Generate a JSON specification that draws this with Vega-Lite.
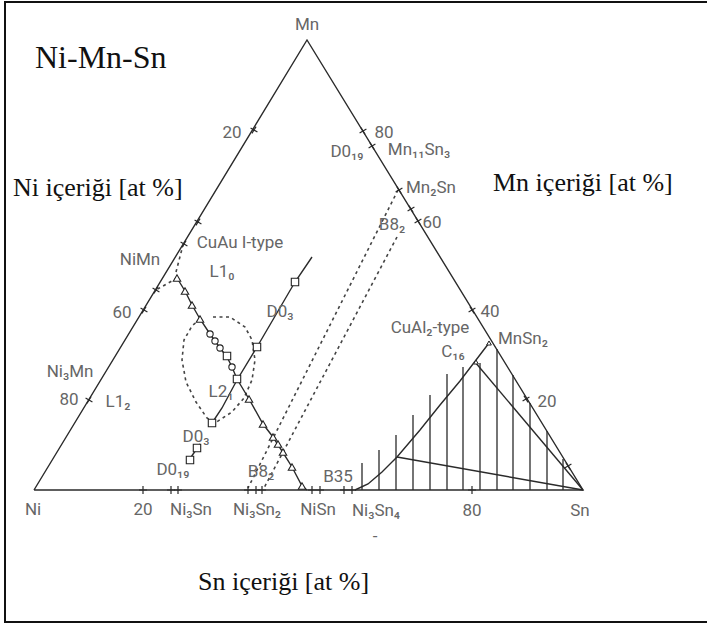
{
  "$schema": "https://vega.github.io/schema/vega-lite/v6.json",
  "width": 707,
  "height": 626,
  "padding": 0,
  "autosize": {"type": "fit", "contains": "padding"},
  "background": "white",
  "config": {"view": {"stroke": null}},
  "datasets": {
    "border": [
      {"id": "b", "i": 0, "x": 707, "y": 2},
      {"id": "b", "i": 1, "x": 5, "y": 2},
      {"id": "b", "i": 2, "x": 5, "y": 622},
      {"id": "b", "i": 3, "x": 707, "y": 622}
    ],
    "solid": [
      {"id": "tri", "i": 0, "x": 34, "y": 490},
      {"id": "tri", "i": 1, "x": 307, "y": 40},
      {"id": "tri", "i": 2, "x": 583, "y": 490},
      {"id": "tri", "i": 3, "x": 34, "y": 490},
      {"id": "main", "i": 0, "x": 177, "y": 278},
      {"id": "main", "i": 1, "x": 185, "y": 291},
      {"id": "main", "i": 2, "x": 192, "y": 305},
      {"id": "main", "i": 3, "x": 200, "y": 319},
      {"id": "main", "i": 4, "x": 210, "y": 334},
      {"id": "main", "i": 5, "x": 220, "y": 348},
      {"id": "main", "i": 6, "x": 227, "y": 357},
      {"id": "main", "i": 7, "x": 232, "y": 367},
      {"id": "main", "i": 8, "x": 237, "y": 379},
      {"id": "main", "i": 9, "x": 249, "y": 399},
      {"id": "main", "i": 10, "x": 263, "y": 424},
      {"id": "main", "i": 11, "x": 273, "y": 437},
      {"id": "main", "i": 12, "x": 282, "y": 451},
      {"id": "main", "i": 13, "x": 292, "y": 467},
      {"id": "main", "i": 14, "x": 302, "y": 486},
      {"id": "main", "i": 15, "x": 307, "y": 490},
      {"id": "d03", "i": 0, "x": 312, "y": 257},
      {"id": "d03", "i": 1, "x": 295, "y": 282},
      {"id": "d03", "i": 2, "x": 257, "y": 347},
      {"id": "d03", "i": 3, "x": 237, "y": 380},
      {"id": "d03", "i": 4, "x": 222, "y": 408},
      {"id": "d03", "i": 5, "x": 212, "y": 423},
      {"id": "d03b", "i": 0, "x": 200, "y": 444},
      {"id": "d03b", "i": 1, "x": 187, "y": 463},
      {"id": "curve", "i": 0, "x": 355, "y": 490},
      {"id": "curve", "i": 1, "x": 368, "y": 484},
      {"id": "curve", "i": 2, "x": 382, "y": 472},
      {"id": "curve", "i": 3, "x": 397, "y": 457},
      {"id": "curve", "i": 4, "x": 420, "y": 430},
      {"id": "curve", "i": 5, "x": 440, "y": 405},
      {"id": "curve", "i": 6, "x": 460, "y": 381},
      {"id": "curve", "i": 7, "x": 489, "y": 343},
      {"id": "c16", "i": 0, "x": 475, "y": 362},
      {"id": "c16", "i": 1, "x": 583, "y": 490},
      {"id": "low", "i": 0, "x": 397, "y": 457},
      {"id": "low", "i": 1, "x": 583, "y": 490}
    ],
    "dashed": [
      {"id": "b1", "i": 0, "x": 398, "y": 190},
      {"id": "b1", "i": 1, "x": 248, "y": 488},
      {"id": "b2", "i": 0, "x": 397, "y": 237},
      {"id": "b2", "i": 1, "x": 264, "y": 488},
      {"id": "l1", "i": 0, "x": 177, "y": 278},
      {"id": "l1", "i": 1, "x": 156, "y": 290},
      {"id": "l2", "i": 0, "x": 176, "y": 272},
      {"id": "l2", "i": 1, "x": 183, "y": 245},
      {"id": "ell", "i": 0, "x": 213, "y": 317},
      {"id": "ell", "i": 1, "x": 230, "y": 317},
      {"id": "ell", "i": 2, "x": 245, "y": 327},
      {"id": "ell", "i": 3, "x": 252, "y": 340},
      {"id": "ell", "i": 4, "x": 255, "y": 360},
      {"id": "ell", "i": 5, "x": 252, "y": 380},
      {"id": "ell", "i": 6, "x": 244, "y": 398},
      {"id": "ell", "i": 7, "x": 232, "y": 412},
      {"id": "ell", "i": 8, "x": 215, "y": 423},
      {"id": "ell", "i": 9, "x": 207, "y": 418},
      {"id": "ell", "i": 10, "x": 196, "y": 402},
      {"id": "ell", "i": 11, "x": 186, "y": 382},
      {"id": "ell", "i": 12, "x": 182, "y": 360},
      {"id": "ell", "i": 13, "x": 184, "y": 340},
      {"id": "ell", "i": 14, "x": 192, "y": 326},
      {"id": "ell", "i": 15, "x": 200, "y": 319}
    ],
    "hatch": [
      {"x": 362, "y": 463, "y2": 490},
      {"x": 379, "y": 450, "y2": 490},
      {"x": 396, "y": 435, "y2": 490},
      {"x": 413, "y": 415, "y2": 490},
      {"x": 430, "y": 395, "y2": 490},
      {"x": 447, "y": 374, "y2": 490},
      {"x": 463, "y": 367, "y2": 490},
      {"x": 480, "y": 363, "y2": 490},
      {"x": 497, "y": 349, "y2": 490},
      {"x": 513, "y": 375, "y2": 490},
      {"x": 530, "y": 403, "y2": 490},
      {"x": 547, "y": 431, "y2": 490},
      {"x": 563, "y": 459, "y2": 490}
    ],
    "ticks": [
      {"edge": "left", "x": 254, "y": 130},
      {"edge": "left", "x": 198, "y": 222},
      {"edge": "left", "x": 184, "y": 244},
      {"edge": "left", "x": 156, "y": 290},
      {"edge": "left", "x": 144, "y": 310},
      {"edge": "left", "x": 89, "y": 400},
      {"edge": "right", "x": 363, "y": 131},
      {"edge": "right", "x": 372, "y": 146},
      {"edge": "right", "x": 399, "y": 190},
      {"edge": "right", "x": 411, "y": 209},
      {"edge": "right", "x": 418, "y": 221},
      {"edge": "right", "x": 472, "y": 310},
      {"edge": "right", "x": 526, "y": 399},
      {"edge": "right", "x": 568, "y": 466},
      {"edge": "bottom", "x": 143, "y": 490},
      {"edge": "bottom", "x": 171, "y": 490},
      {"edge": "bottom", "x": 178, "y": 490},
      {"edge": "bottom", "x": 248, "y": 490},
      {"edge": "bottom", "x": 256, "y": 490},
      {"edge": "bottom", "x": 262, "y": 490},
      {"edge": "bottom", "x": 312, "y": 490},
      {"edge": "bottom", "x": 320, "y": 490},
      {"edge": "bottom", "x": 344, "y": 490},
      {"edge": "bottom", "x": 352, "y": 490},
      {"edge": "bottom", "x": 472, "y": 490}
    ],
    "markers": [
      {"kind": "tri", "x": 177, "y": 278},
      {"kind": "tri", "x": 185, "y": 291},
      {"kind": "tri", "x": 192, "y": 305},
      {"kind": "tri", "x": 200, "y": 319},
      {"kind": "tri", "x": 249, "y": 399},
      {"kind": "tri", "x": 263, "y": 424},
      {"kind": "tri", "x": 273, "y": 437},
      {"kind": "tri", "x": 278, "y": 444},
      {"kind": "tri", "x": 283, "y": 452},
      {"kind": "tri", "x": 292, "y": 467},
      {"kind": "tri", "x": 302, "y": 486},
      {"kind": "tri_s", "x": 489, "y": 343},
      {"kind": "tri_s", "x": 476, "y": 362},
      {"kind": "circ", "x": 210, "y": 334},
      {"kind": "circ", "x": 215, "y": 341},
      {"kind": "circ", "x": 220, "y": 348},
      {"kind": "circ", "x": 232, "y": 367},
      {"kind": "sq", "x": 227, "y": 356},
      {"kind": "sq", "x": 237, "y": 379},
      {"kind": "sq", "x": 257, "y": 347},
      {"kind": "sq", "x": 295, "y": 282},
      {"kind": "sq", "x": 212, "y": 423},
      {"kind": "sq", "x": 197, "y": 448},
      {"kind": "sq", "x": 190, "y": 460}
    ],
    "labels": [
      {"text": "Mn", "x": 307, "y": 25},
      {"text": "20", "x": 232, "y": 133},
      {"text": "Ni", "x": 33, "y": 510},
      {"text": "20", "x": 143, "y": 510},
      {"text": "Ni₃Sn", "x": 191, "y": 510},
      {"text": "Ni₃Sn₂", "x": 257, "y": 510},
      {"text": "NiSn", "x": 318, "y": 510},
      {"text": "Ni₃Sn₄", "x": 376, "y": 511},
      {"text": "-", "x": 375, "y": 537},
      {"text": "80", "x": 472, "y": 511},
      {"text": "Sn", "x": 580, "y": 511},
      {"text": "80", "x": 384, "y": 133},
      {"text": "D0₁₉", "x": 347, "y": 152},
      {"text": "Mn₁₁Sn₃", "x": 419, "y": 150},
      {"text": "Mn₂Sn", "x": 431, "y": 188},
      {"text": "B8₂", "x": 392, "y": 225},
      {"text": "60", "x": 432, "y": 223},
      {"text": "CuAu I-type", "x": 240, "y": 243},
      {"text": "L1₀", "x": 222, "y": 272},
      {"text": "NiMn", "x": 140, "y": 260},
      {"text": "60", "x": 122, "y": 313},
      {"text": "D0₃", "x": 280, "y": 312},
      {"text": "Ni₃Mn", "x": 70, "y": 372},
      {"text": "80", "x": 69, "y": 400},
      {"text": "L1₂", "x": 118, "y": 402},
      {"text": "L2₁", "x": 221, "y": 392},
      {"text": "D0₃", "x": 196, "y": 437},
      {"text": "D0₁₉", "x": 173, "y": 470},
      {"text": "B8₂", "x": 261, "y": 472},
      {"text": "B35", "x": 338, "y": 477},
      {"text": "40", "x": 490, "y": 312},
      {"text": "CuAl₂-type", "x": 430, "y": 328},
      {"text": "MnSn₂", "x": 523, "y": 339},
      {"text": "C₁₆", "x": 453, "y": 352},
      {"text": "20", "x": 547, "y": 402}
    ],
    "titles": [
      {"group": "main", "text": "Ni-Mn-Sn", "x": 35, "y": 58},
      {"group": "axis", "text": "Ni içeriği [at %]", "x": 13, "y": 188},
      {"group": "axis", "text": "Mn içeriği [at %]", "x": 493, "y": 183},
      {"group": "axis", "text": "Sn içeriği [at %]", "x": 198, "y": 582}
    ]
  },
  "encoding": {
    "x": {"field": "x", "type": "quantitative", "scale": {"domain": [0, 707], "nice": false, "zero": false}, "axis": null},
    "y": {"field": "y", "type": "quantitative", "scale": {"domain": [0, 626], "nice": false, "zero": false, "reverse": true}, "axis": null}
  },
  "layer": [
    {
      "data": {"name": "border"},
      "mark": {"type": "line", "color": "#111", "strokeWidth": 2, "clip": true},
      "encoding": {"detail": {"field": "id"}, "order": {"field": "i"}}
    },
    {
      "data": {"name": "hatch"},
      "mark": {"type": "rule", "color": "#2a2a2a", "strokeWidth": 1.3},
      "encoding": {"y2": {"field": "y2"}}
    },
    {
      "data": {"name": "dashed"},
      "mark": {"type": "line", "color": "#444", "strokeWidth": 1.6, "strokeDash": [3, 3.5]},
      "encoding": {"detail": {"field": "id"}, "order": {"field": "i"}}
    },
    {
      "data": {"name": "solid"},
      "mark": {"type": "line", "color": "#2a2a2a", "strokeWidth": 1.4},
      "encoding": {"detail": {"field": "id"}, "order": {"field": "i"}}
    },
    {
      "data": {"name": "ticks"},
      "transform": [{"filter": "datum.edge === 'left'"}],
      "mark": {"type": "point", "shape": "M-1,0L1,0M0,-1L0,1", "filled": false, "stroke": "#2a2a2a", "strokeWidth": 1.2, "size": 64, "angle": -59, "opacity": 1}
    },
    {
      "data": {"name": "ticks"},
      "transform": [{"filter": "datum.edge === 'right'"}],
      "mark": {"type": "point", "shape": "M-1,0L1,0M0,-1L0,1", "filled": false, "stroke": "#2a2a2a", "strokeWidth": 1.2, "size": 64, "angle": 58.5, "opacity": 1}
    },
    {
      "data": {"name": "ticks"},
      "transform": [{"filter": "datum.edge === 'bottom'"}],
      "mark": {"type": "point", "shape": "M-1,0L1,0M0,-1L0,1", "filled": false, "stroke": "#2a2a2a", "strokeWidth": 1.2, "size": 64, "angle": 0, "opacity": 1}
    },
    {
      "data": {"name": "markers"},
      "transform": [{"filter": "datum.kind === 'tri'"}],
      "mark": {"type": "point", "shape": "triangle-up", "filled": true, "fill": "white", "stroke": "#222", "strokeWidth": 1.1, "size": 55, "opacity": 1}
    },
    {
      "data": {"name": "markers"},
      "transform": [{"filter": "datum.kind === 'tri_s'"}],
      "mark": {"type": "point", "shape": "triangle-up", "filled": true, "fill": "white", "stroke": "#222", "strokeWidth": 1, "size": 22, "opacity": 1}
    },
    {
      "data": {"name": "markers"},
      "transform": [{"filter": "datum.kind === 'circ'"}],
      "mark": {"type": "point", "shape": "circle", "filled": true, "fill": "white", "stroke": "#222", "strokeWidth": 1.1, "size": 40, "opacity": 1}
    },
    {
      "data": {"name": "markers"},
      "transform": [{"filter": "datum.kind === 'sq'"}],
      "mark": {"type": "point", "shape": "square", "filled": true, "fill": "white", "stroke": "#222", "strokeWidth": 1.1, "size": 55, "opacity": 1}
    },
    {
      "data": {"name": "labels"},
      "mark": {"type": "text", "font": "Roboto", "fontSize": 17, "fill": "#666", "align": "center", "baseline": "middle"},
      "encoding": {"text": {"field": "text"}}
    },
    {
      "data": {"name": "titles"},
      "transform": [{"filter": "datum.group === 'main'"}],
      "mark": {"type": "text", "font": "Liberation Serif", "fontSize": 32, "fill": "#111", "align": "left", "baseline": "middle"},
      "encoding": {"text": {"field": "text"}}
    },
    {
      "data": {"name": "titles"},
      "transform": [{"filter": "datum.group === 'axis'"}],
      "mark": {"type": "text", "font": "Liberation Serif", "fontSize": 26, "fill": "#111", "align": "left", "baseline": "middle"},
      "encoding": {"text": {"field": "text"}}
    }
  ]
}
